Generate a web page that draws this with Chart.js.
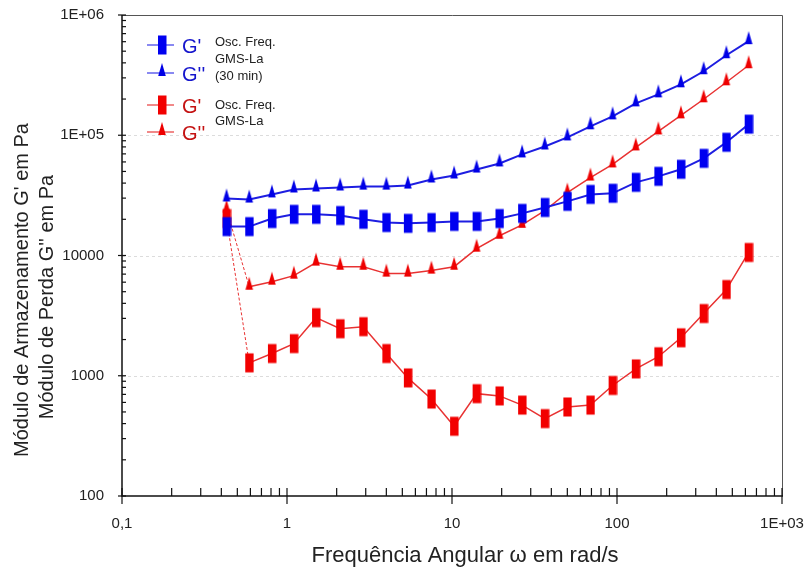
<!DOCTYPE html>
<html>
<head>
<meta charset="utf-8">
<script src="https://cdn.jsdelivr.net/npm/chart.js@4.4.1/dist/chart.umd.min.js"></script>
<style>
html, body { margin: 0; padding: 0; background: #fff; }
</style>
</head>
<body>
<canvas id="grafico" width="807" height="574"></canvas>
<script>
// frequencia angular (rad/s)
var frequencias = [0.43, 0.59, 0.81, 1.1, 1.5, 2.1, 2.9, 4.0, 5.4, 7.5, 10.3, 14.1, 19.4, 26.6, 36.5, 50, 69, 94, 130, 178, 244, 335, 460, 628];

// GMS-La (30 min)
var gLinhaAzul = [17400, 17400, 20300, 22000, 22000, 21500, 20000, 18800, 18500, 18800, 19200, 19200, 20300, 22400, 25100, 28200, 32200, 32900, 40600, 45500, 52100, 64300, 87400, 123600];
var gDuasAzul = [29800, 29200, 32200, 35400, 36100, 36800, 37400, 37400, 38200, 42900, 46300, 51900, 58300, 69300, 80700, 96000, 118700, 143600, 184300, 218900, 265300, 340600, 462700, 605800];

// GMS-La
var gLinhaVermelho = [20300, 1280, 1530, 1850, 3040, 2460, 2560, 1530, 960, 640, 380, 710, 680, 570, 440, 550, 570, 830, 1140, 1440, 2070, 3290, 5210, 10600];
var gDuasVermelho = [24100, 5500, 6060, 6800, 8730, 8070, 8070, 7070, 7070, 7490, 8070, 11400, 14600, 18000, 23600, 33400, 44500, 57200, 79200, 107700, 146400, 199200, 275800, 382100];

var xTickValores = [0.1, 1, 10, 100, 1000];
var xTickRotulos = ["0,1", "1", "10", "100", "1E+03"];
var yTickValores = [100, 1000, 10000, 100000, 1000000];
var yTickRotulos = ["100", "1000", "10000", "1E+05", "1E+06"];

var fonte = "'Liberation Sans', Arial, sans-serif";
Chart.defaults.font.family = fonte;

function pontos(valores) {
    return valores.map(function (v, i) { return {x: frequencias[i], y: v}; });
}

// marcadores: retangulo alto e triangulo estreito
function marcador(tipo, cor) {
    var c = document.createElement('canvas');
    c.width = 10; c.height = 24;
    var ctx = c.getContext('2d');
    ctx.fillStyle = cor;
    if (tipo == 'ret') {
        ctx.fillRect(1, 2.5, 8.5, 19);
    } else {
        ctx.beginPath();
        ctx.moveTo(5, 2);
        ctx.lineTo(8.8, 15);
        ctx.lineTo(1.2, 15);
        ctx.closePath();
        ctx.fill();
    }
    return c;
}

var retAzul = marcador('ret', '#0000f0');
var triAzul = marcador('tri', '#0000e6');
var retVerm = marcador('ret', '#f20000');
var triVerm = marcador('tri', '#ee0000');

// primeiro segmento vermelho fino e tracejado
var segInicial = {
    borderDash: function (ctx) { return ctx.p0DataIndex === 0 ? [3, 2] : undefined; },
    borderWidth: function (ctx) { return ctx.p0DataIndex === 0 ? 1 : undefined; }
};

var eixos = {
    id: 'eixos',
    beforeDatasetsDraw: function (chart) {
        var ctx = chart.ctx, a = chart.chartArea, sy = chart.scales.y;
        ctx.save();
        ctx.strokeStyle = '#dcdcdc';
        ctx.lineWidth = 1;
        ctx.setLineDash([3, 3]);
        [1000, 10000, 100000].forEach(function (v) {
            var py = Math.round(sy.getPixelForValue(v)) + 0.5;
            ctx.beginPath(); ctx.moveTo(a.left, py); ctx.lineTo(a.right, py); ctx.stroke();
        });
        ctx.restore();
    },
    afterDraw: function (chart) {
        var ctx = chart.ctx, a = chart.chartArea, sx = chart.scales.x, sy = chart.scales.y;
        ctx.save();
        // moldura
        ctx.strokeStyle = '#555';
        ctx.lineWidth = 1;
        ctx.beginPath();
        ctx.moveTo(a.left, a.top + 0.5); ctx.lineTo(a.right + 0.5, a.top + 0.5); ctx.lineTo(a.right + 0.5, a.bottom);
        ctx.stroke();
        ctx.strokeStyle = '#111';
        ctx.lineWidth = 1.5;
        ctx.beginPath();
        ctx.moveTo(a.left, a.top); ctx.lineTo(a.left, a.bottom); ctx.lineTo(a.right + 1, a.bottom);
        ctx.stroke();
        // marcas do eixo y
        ctx.lineWidth = 1.2;
        for (var e = 2; e <= 6; e++) {
            var py = sy.getPixelForValue(Math.pow(10, e));
            ctx.beginPath(); ctx.moveTo(a.left - 4, py); ctx.lineTo(a.left + 4, py); ctx.stroke();
            if (e < 6) {
                for (var k = 2; k <= 9; k++) {
                    var pm = sy.getPixelForValue(k * Math.pow(10, e));
                    ctx.beginPath(); ctx.moveTo(a.left, pm); ctx.lineTo(a.left + 4, pm); ctx.stroke();
                }
            }
        }
        // marcas do eixo x
        for (var d = -1; d <= 3; d++) {
            var px = sx.getPixelForValue(Math.pow(10, d));
            ctx.beginPath(); ctx.moveTo(px, a.bottom - 8); ctx.lineTo(px, a.bottom + 8); ctx.stroke();
            if (d < 3) {
                for (var j = 2; j <= 9; j++) {
                    var pn = sx.getPixelForValue(j * Math.pow(10, d));
                    ctx.beginPath(); ctx.moveTo(pn, a.bottom - 8); ctx.lineTo(pn, a.bottom); ctx.stroke();
                }
            }
        }
        // titulos dos eixos
        ctx.fillStyle = '#222';
        ctx.textAlign = 'center';
        ctx.textBaseline = 'middle';
        ctx.font = '22px ' + fonte;
        ctx.fillText('Frequência Angular ω em rad/s', 465, 556);
        ctx.font = '20px ' + fonte;
        ctx.save();
        ctx.translate(22, 290); ctx.rotate(-Math.PI / 2);
        ctx.fillText("Módulo de Armazenamento G' em Pa", 0, 0);
        ctx.restore();
        ctx.save();
        ctx.translate(47, 297); ctx.rotate(-Math.PI / 2);
        ctx.fillText("Módulo de Perda G'' em Pa", 0, 0);
        ctx.restore();
        // legenda
        var itens = [
            {y: 45, cor: 'rgba(40,40,230,0.55)', img: retAzul, txt: "G'", corTxt: '#1515cc'},
            {y: 73, cor: 'rgba(40,40,230,0.55)', img: triAzul, txt: "G''", corTxt: '#1515cc'},
            {y: 105, cor: 'rgba(230,40,40,0.55)', img: retVerm, txt: "G'", corTxt: '#c41212'},
            {y: 132, cor: 'rgba(230,40,40,0.55)', img: triVerm, txt: "G''", corTxt: '#c41212'}
        ];
        itens.forEach(function (it) {
            ctx.strokeStyle = it.cor;
            ctx.lineWidth = 2;
            ctx.setLineDash([]);
            ctx.beginPath(); ctx.moveTo(147, it.y); ctx.lineTo(174, it.y); ctx.stroke();
            ctx.drawImage(it.img, 157, it.y - 12);
            ctx.fillStyle = it.corTxt;
            ctx.textAlign = 'left';
            ctx.font = '20px ' + fonte;
            ctx.fillText(it.txt, 182, it.y + 2);
        });
        ctx.fillStyle = '#222';
        ctx.font = '13px ' + fonte;
        ctx.fillText('Osc. Freq.', 215, 42);
        ctx.fillText('GMS-La', 215, 59);
        ctx.fillText('(30 min)', 215, 76);
        ctx.fillText('Osc. Freq.', 215, 105);
        ctx.fillText('GMS-La', 215, 121);
        ctx.restore();
    }
};

new Chart(document.getElementById('grafico'), {
    type: 'line',
    data: {
        datasets: [
            {label: "G' Osc. Freq. GMS-La (30 min)", data: pontos(gLinhaAzul), borderColor: 'rgb(30,30,225)', borderWidth: 2,
             pointStyle: retAzul, pointRadius: 5, pointHoverRadius: 5},
            {label: "G'' Osc. Freq. GMS-La (30 min)", data: pontos(gDuasAzul), borderColor: 'rgb(30,30,225)', borderWidth: 2,
             pointStyle: triAzul, pointRadius: 5, pointHoverRadius: 5},
            {label: "G' Osc. Freq. GMS-La", data: pontos(gLinhaVermelho), borderColor: 'rgb(232,50,50)', borderWidth: 1.5,
             pointStyle: retVerm, pointRadius: 5, pointHoverRadius: 5, segment: segInicial},
            {label: "G'' Osc. Freq. GMS-La", data: pontos(gDuasVermelho), borderColor: 'rgb(232,50,50)', borderWidth: 1.5,
             pointStyle: triVerm, pointRadius: 5, pointHoverRadius: 5, segment: segInicial}
        ]
    },
    options: {
        responsive: false,
        animation: false,
        layout: {padding: {top: 15, right: 25, left: 0, bottom: 0}},
        plugins: {legend: {display: false}, tooltip: {enabled: false}},
        scales: {
            x: {
                type: 'logarithmic', min: 0.1, max: 1000,
                afterBuildTicks: function (s) { s.ticks = xTickValores.map(function (v) { return {value: v}; }); },
                afterFit: function (s) { s.height = 78; },
                grid: {display: true, drawOnChartArea: false, drawTicks: true, tickLength: 19, tickColor: 'rgba(0,0,0,0)'},
                border: {display: false},
                ticks: {padding: 0, color: '#222', font: {size: 15}, autoSkip: false, maxRotation: 0,
                        callback: function (v, i) { return xTickRotulos[i]; }}
            },
            y: {
                type: 'logarithmic', min: 100, max: 1000000,
                afterBuildTicks: function (s) { s.ticks = yTickValores.map(function (v) { return {value: v}; }); },
                afterFit: function (s) { s.width = 122; },
                grid: {display: true, drawOnChartArea: false, drawTicks: true, tickLength: 18, tickColor: 'rgba(0,0,0,0)'},
                border: {display: false},
                ticks: {padding: 0, color: '#222', font: {size: 15}, autoSkip: false,
                        callback: function (v, i) { return yTickRotulos[i]; }}
            }
        }
    },
    plugins: [eixos]
});
</script>
</body>
</html>
